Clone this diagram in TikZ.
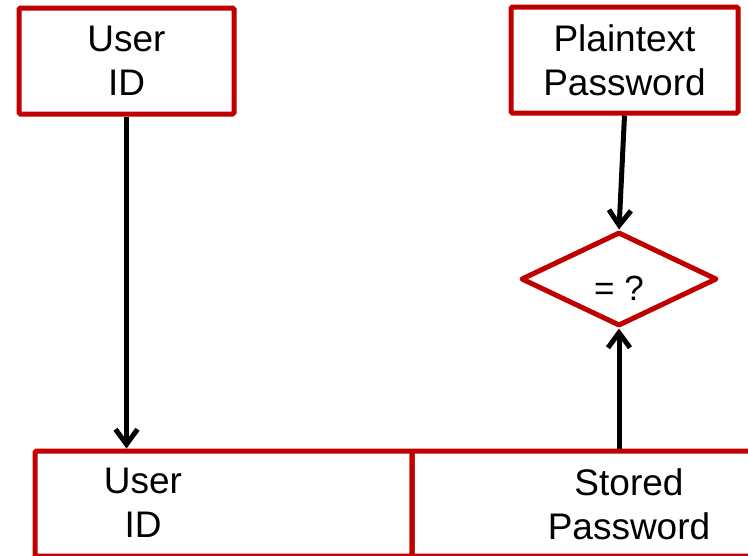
\documentclass[tikz,border=0pt]{standalone}
\usepackage{fontspec}
\setmainfont{Liberation Sans}
\definecolor{boxred}{RGB}{192, 0, 0}
\usetikzlibrary{shapes.geometric, arrows.meta}
\tikzset{
    redbox/.style={
        rectangle,
        draw=boxred,
        line width=5pt,
        rounded corners=1.5pt,
        inner sep=0pt,
        minimum height=106pt,
        align=center,
        font=\fontsize{37pt}{44pt}\selectfont
    },
    cellbox/.style={
        rectangle,
        draw=boxred,
        line width=5pt,
        rounded corners=1.5pt,
        inner sep=0pt,
        minimum height=105pt
    },
    decisionbox/.style={
        diamond,
        draw=boxred,
        line width=5pt,
        line join=round,
        inner sep=0pt,
        minimum width=196pt,
        minimum height=94pt,
        font=\fontsize{35pt}{40pt}\selectfont
    },
    labeltext/.style={
        align=center,
        inner sep=0pt,
        font=\fontsize{37pt}{44pt}\selectfont
    },
    arrowstyle/.style={-{Straight Barb[length=15pt, width=22pt]}, line width=5pt, color=black}
}

\begin{document}
\begin{tikzpicture}[x=1pt, y=-1pt]
      \useasboundingbox (0,0) rectangle (748,555);
      \node[redbox, minimum width=215pt] (uid) at (126.5,61) {User\\ID};
      \node[redbox, minimum width=227pt] (ptp) at (624.5,60) {Plaintext\\Password};
      \node[decisionbox] (eq) at (619,279) {\raisebox{-21pt}[0pt][0pt]{= ?}};
      
      \node[cellbox, minimum width=377pt] (rowid) at (223.5,503.5) {};
      \node[cellbox, minimum width=388pt] (rowpw) at (606,503.5) {};
      \node[labeltext] (tid) at (143,503) {User\\ID};
      \node[labeltext] (tpw) at (629,504) {Stored\\Password};
      
      \draw[arrowstyle] (uid.south) -- (uid.south |- rowid.north);
      \draw[arrowstyle] (ptp.south) -- (eq.north);
      \draw[arrowstyle] (eq.south |- rowpw.north) -- (eq.south);
    \end{tikzpicture}
\end{document}
